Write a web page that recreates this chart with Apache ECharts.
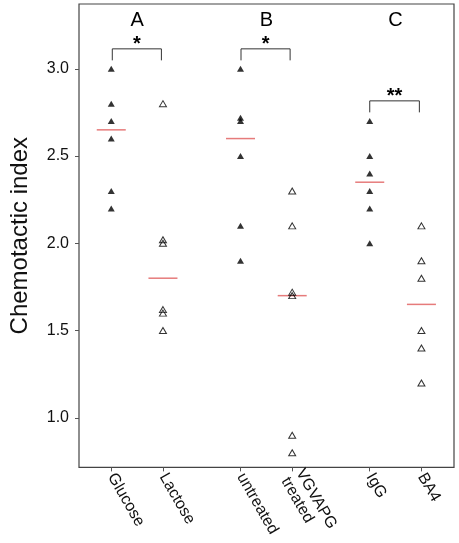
<!DOCTYPE html>
<html>
<head>
<meta charset="utf-8">
<script src="https://cdn.jsdelivr.net/npm/echarts@6/dist/echarts.min.js"></script>
<style>html,body{margin:0;padding:0;background:#fff}#c{width:459px;height:543px}</style>
</head>
<body>
<div id="c"></div>
<script>
// ---- data ----
const categories = ['Glucose', 'Lactose', 'untreated', 'VGVAPG\ntreated', 'IgG', 'BA4'];
const positions = [1, 2, 3.5, 4.5, 6, 7];
const filledFlags = [true, false, true, false, true, false];

const glucose   = [3.0, 2.8, 2.7, 2.6, 2.3, 2.2];
const lactose   = [2.8, 2.02, 2.0, 1.62, 1.6, 1.5];
const untreated = [3.0, 2.72, 2.7, 2.5, 2.1, 1.9];
const vgvapg    = [2.3, 2.1, 1.72, 1.7, 0.9, 0.8];
const igg       = [2.7, 2.5, 2.4, 2.3, 2.2, 2.0];
const ba4       = [2.1, 1.9, 1.8, 1.5, 1.4, 1.2];
const groupValues = [glucose, lactose, untreated, vgvapg, igg, ba4];

const medians = [2.65, 1.80, 2.60, 1.70, 2.35, 1.65];

const yTicks = [1.0, 1.5, 2.0, 2.5, 3.0];

const groupLetters = ['A', 'B', 'C'];
const groupLetterX = [1.5, 4, 6.5];
const groupLetterY = 3.277;

const bracketFrom  = [1.02, 3.51, 6.0];
const bracketTo    = [1.97, 4.46, 6.96];
const bracketTop   = [3.114, 3.114, 2.816];
const bracketStars = ['*', '*', '**'];

// ---- chart ----
const font = "'Liberation Sans', Arial, Helvetica, sans-serif";
const chart = echarts.init(document.getElementById('c'), null, {renderer: 'canvas'});

const series = [];

// median lines
series.push({
  type: 'scatter',
  symbol: 'rect',
  symbolSize: [29, 1.5],
  itemStyle: {color: '#e05a5a'},
  z: 2,
  silent: true,
  data: medians.map((m, i) => [positions[i], m])
});

groupValues.forEach((vals, gi) => {
  const filled = filledFlags[gi];
  series.push({
    type: 'scatter',
    symbol: 'triangle',
    symbolSize: [7, 6],
    itemStyle: filled
      ? {color: '#000', borderWidth: 0}
      : {color: 'rgba(0,0,0,0)', borderColor: '#000', borderWidth: 1},
    z: 3,
    silent: true,
    data: vals.map(v => [positions[gi], v])
  });
});

// brackets with stars
series.push({
  type: 'custom',
  silent: true,
  z: 4,
  data: bracketFrom.map((f, i) => [f, bracketTo[i], bracketTop[i], i]),
  renderItem: function (params, api) {
    const a = api.coord([api.value(0), api.value(2)]);
    const b = api.coord([api.value(1), api.value(2)]);
    const leg = 11.5;
    const idx = api.value(3);
    return {
      type: 'group',
      children: [
        {
          type: 'polyline',
          shape: {points: [[a[0], a[1] + leg], [a[0], a[1]], [b[0], b[1]], [b[0], b[1] + leg]]},
          style: {stroke: '#333', lineWidth: 1, fill: null}
        },
        {
          type: 'text',
          style: {
            text: bracketStars[idx],
            x: (a[0] + b[0]) / 2,
            y: a[1] - 4,
            align: 'center',
            verticalAlign: 'middle',
            font: 'bold 20px ' + font,
            fill: '#000'
          }
        }
      ]
    };
  }
});

// group letters
series.push({
  type: 'custom',
  silent: true,
  z: 4,
  data: groupLetterX.map((x, i) => [x, groupLetterY, i]),
  renderItem: function (params, api) {
    const p = api.coord([api.value(0), api.value(1)]);
    return {
      type: 'text',
      style: {
        text: groupLetters[api.value(2)],
        x: p[0], y: p[1],
        align: 'center', verticalAlign: 'middle',
        font: '20px ' + font, fill: '#000'
      }
    };
  }
});

chart.setOption({
  animation: false,
  backgroundColor: '#fff',
  grid: {
    left: 74, right: 5, top: 4, bottom: 72,
    show: true, borderColor: '#444', borderWidth: 1.2, backgroundColor: 'transparent'
  },
  xAxis: {
    type: 'value',
    min: 0.376, max: 7.63,
    axisLine: {show: false},
    splitLine: {show: false},
    axisTick: {show: true, customValues: positions, length: 4, lineStyle: {color: '#555'}},
    axisLabel: {
      show: true, customValues: positions, rotate: -60, margin: 7,
      fontSize: 16, fontFamily: font, color: '#111', lineHeight: 17,
      formatter: function (v) {
        const i = positions.findIndex(p => Math.abs(p - v) < 1e-6);
        return i >= 0 ? categories[i] : '';
      }
    }
  },
  yAxis: {
    type: 'value',
    min: 0.716, max: 3.371,
    name: 'Chemotactic index',
    nameLocation: 'middle',
    nameGap: 47,
    nameTextStyle: {fontSize: 24, fontFamily: font, color: '#111'},
    axisLine: {show: false},
    splitLine: {show: false},
    axisTick: {show: true, customValues: yTicks, length: 4, lineStyle: {color: '#555'}},
    axisLabel: {
      show: true, customValues: yTicks, margin: 10,
      fontSize: 16, fontFamily: font, color: '#111',
      formatter: v => v.toFixed(1)
    }
  },
  series: series
});
</script>
</body>
</html>
